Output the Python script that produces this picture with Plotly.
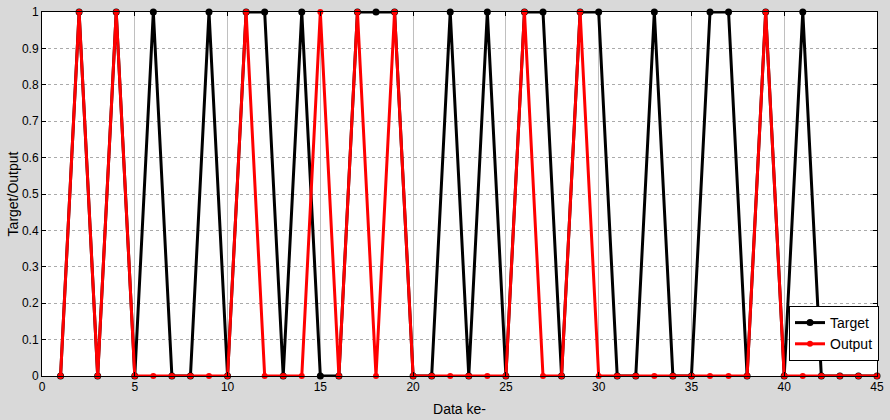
import plotly.graph_objects as go

data_idx = list(range(1, 46))
target = [0, 1, 0, 1, 0, 1, 0, 0, 1, 0,
          1, 1, 0, 1, 0, 0, 1, 1, 1, 0,
          0, 1, 0, 1, 0, 1, 1, 0, 1, 1,
          0, 0, 1, 0, 0, 1, 1, 0, 1, 0,
          1, 0, 0, 0, 0]
output = [0, 1, 0, 1, 0, 0, 0, 0, 0, 0,
          1, 0, 0, 0, 1, 0, 1, 0, 1, 0,
          0, 0, 0, 0, 0, 1, 0, 0, 1, 0,
          0, 0, 0, 0, 0, 0, 0, 0, 1, 0,
          0, 0, 0, 0, 0]
x_ticks = [0, 5, 10, 15, 20, 25, 30, 35, 40, 45]
y_ticks = [0, 0.1, 0.2, 0.3, 0.4, 0.5, 0.6, 0.7, 0.8, 0.9, 1]
y_tick_text = ["0", "0.1", "0.2", "0.3", "0.4", "0.5", "0.6", "0.7", "0.8", "0.9", "1"]

fig = go.Figure()
fig.add_trace(go.Scatter(
    x=data_idx, y=target, mode="lines+markers", name="Target",
    line=dict(color="black", width=3),
    marker=dict(color="black", size=7),
    cliponaxis=False,
))
fig.add_trace(go.Scatter(
    x=data_idx, y=output, mode="lines+markers", name="Output",
    line=dict(color="#ff0000", width=3),
    marker=dict(color="#ff0000", size=6),
    cliponaxis=False,
))

FONT = "Liberation Sans, Arial, sans-serif"
fig.update_layout(
    width=890, height=420,
    margin=dict(l=42, r=13, t=12, b=44, autoexpand=False),
    paper_bgcolor="#d9d9d9",
    plot_bgcolor="white",
    font=dict(family=FONT, size=12, color="black"),
    showlegend=True,
    legend=dict(
        x=(789 - 42) / 835, y=(376 - 306) / 364,
        xanchor="left", yanchor="top",
        bgcolor="white", bordercolor="black", borderwidth=1,
        font=dict(family=FONT, size=14, color="black"),
        tracegroupgap=0, itemwidth=30,
    ),
    xaxis=dict(
        range=[0, 45], tickvals=x_ticks, ticktext=[str(v) for v in x_ticks],
        showgrid=True, gridcolor="#c0c0c0", gridwidth=1,
        showline=True, linecolor="black", linewidth=1, mirror="ticks",
        ticks="inside", ticklen=4, tickcolor="black",
        zeroline=False, automargin=False,
        title=dict(text="Data ke-", font=dict(size=14), standoff=10),
        tickfont=dict(size=12),
    ),
    yaxis=dict(
        range=[0, 1], tickvals=y_ticks, ticktext=y_tick_text,
        showgrid=True, gridcolor="#aaaaaa", gridwidth=1, griddash="dot",
        showline=True, linecolor="black", linewidth=1, mirror="ticks",
        ticks="inside", ticklen=4, tickcolor="black",
        zeroline=False, automargin=False,
        title=dict(text="Target/Output", font=dict(size=14), standoff=0),
        tickfont=dict(size=12),
    ),
)

fig.write_html("out.html", config={"displayModeBar": False},
               post_script="document.body.style.margin='0';")
